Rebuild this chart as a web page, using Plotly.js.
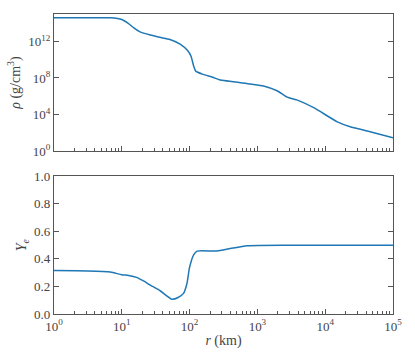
<!DOCTYPE html>
<html>
<head>
<meta charset="utf-8">
<script src="https://cdn.plot.ly/plotly-3.0.1.min.js"></script>
<style>html,body{margin:0;padding:0;background:#fff}#chart{width:415px;height:363px}</style>
</head>
<body>
<div id="chart"></div>
<script>
// Density profile
var r_rho = [1, 3.2, 6.8, 10, 12.3, 15.1, 18.6, 26.3, 36.3, 51.3, 72.4, 93.3, 104.7, 114.8, 123, 158, 219, 275, 794, 1230, 1950, 2750, 3800, 6760, 15100, 23400, 41700, 100000];
var rho = [3.98e14, 3.98e14, 3.8e14, 2.5e14, 1e14, 3e13, 1.1e13, 5e12, 2.8e12, 1.6e12, 5e11, 1e11, 2.5e10, 2e9, 5.6e8, 2.5e8, 1.2e8, 6.3e7, 2.2e7, 1.35e7, 4e6, 8e5, 4e5, 5.6e4, 1.6e3, 460, 160, 29];
// Electron fraction profile
var r_ye = [1, 3.16, 6.8, 10, 12.6, 16.6, 20.9, 26.3, 37.2, 55, 67.6, 81.3, 91.2, 100, 114.8, 128.8, 251, 398, 708, 3162, 100000];
var ye = [0.315, 0.313, 0.305, 0.285, 0.28, 0.266, 0.24, 0.21, 0.167, 0.107, 0.12, 0.15, 0.22, 0.34, 0.43, 0.457, 0.457, 0.475, 0.496, 0.5, 0.5];
// Tick labels
var xTickVals = [1, 10, 100, 1000, 10000, 100000];
var xTickText = ['10<sup>0</sup>', '10<sup>1</sup>', '10<sup>2</sup>', '10<sup>3</sup>', '10<sup>4</sup>', '10<sup>5</sup>'];
var rhoTickVals = [1, 1e4, 1e8, 1e12];
var rhoTickText = ['10<sup>0</sup>', '10<sup>4</sup>', '10<sup>8</sup>', '10<sup>12</sup>'];
var yeTickVals = [0, 0.2, 0.4, 0.6, 0.8, 1.0];
var yeTickText = ['0.0', '0.2', '0.4', '0.6', '0.8', '1.0'];

var FONT = 'Liberation Serif';
var lineColor = '#1f77b4';

function ax(extra) {
  var base = {
    showline: true, linecolor: '#555', linewidth: 1.2, mirror: true,
    ticks: 'inside', ticklen: 5, tickcolor: '#555', tickwidth: 1,
    showgrid: false, zeroline: false,
    tickfont: {family: FONT, size: 13, color: '#444'}
  };
  for (var k in extra) base[k] = extra[k];
  return base;
}
function minorX() { return {ticks: 'inside', ticklen: 3, tickcolor: '#555', tickwidth: 0.8, dtick: 'D1', showgrid: false}; }
function titleFont() { return {family: FONT, size: 14, color: '#444'}; }

var traces = [
  {x: r_rho, y: rho, type: 'scatter', mode: 'lines', line: {color: lineColor, width: 1.5, shape: 'spline', smoothing: 0.6}, xaxis: 'x', yaxis: 'y'},
  {x: r_ye, y: ye, type: 'scatter', mode: 'lines', line: {color: lineColor, width: 1.5, shape: 'spline', smoothing: 0.6}, xaxis: 'x2', yaxis: 'y2'}
];

var layout = {
  width: 415, height: 363,
  margin: {l: 54, r: 22, t: 14, b: 49},
  paper_bgcolor: '#fff', plot_bgcolor: '#fff',
  showlegend: false,
  font: {family: FONT, size: 13, color: '#444'},
  xaxis: ax({type: 'log', range: [0, 5], domain: [0, 1], anchor: 'y', tickvals: xTickVals, ticktext: xTickText, showticklabels: false, minor: minorX()}),
  xaxis3: ax({type: 'log', range: [0, 5], overlaying: 'x', side: 'top', anchor: 'y', tickvals: xTickVals, ticktext: xTickText, showticklabels: false, minor: minorX(), showline: false}),
  yaxis: ax({type: 'log', range: [0, 15], domain: [0.543, 1], anchor: 'x', tickvals: rhoTickVals, ticktext: rhoTickText, mirror: 'ticks',
    title: {text: '<i>ρ</i> (g/cm<sup>3</sup>)', font: titleFont(), standoff: 4}}),
  xaxis2: ax({type: 'log', range: [0, 5], domain: [0, 1], anchor: 'y2', tickvals: xTickVals, ticktext: xTickText, minor: minorX(),
    title: {text: '<i>r</i> (km)', font: titleFont(), standoff: 2}}),
  xaxis4: ax({type: 'log', range: [0, 5], overlaying: 'x2', side: 'top', anchor: 'y2', tickvals: xTickVals, ticktext: xTickText, showticklabels: false, minor: minorX(), showline: false}),
  yaxis2: ax({range: [0, 1], domain: [0, 0.459], anchor: 'x2', tickvals: yeTickVals, ticktext: yeTickText, mirror: 'ticks',
    title: {text: '<i>Y</i><sub><i>e</i></sub>', font: titleFont(), standoff: 4}})
};

Plotly.newPlot('chart', traces, layout, {displayModeBar: false});
</script>
</body>
</html>
